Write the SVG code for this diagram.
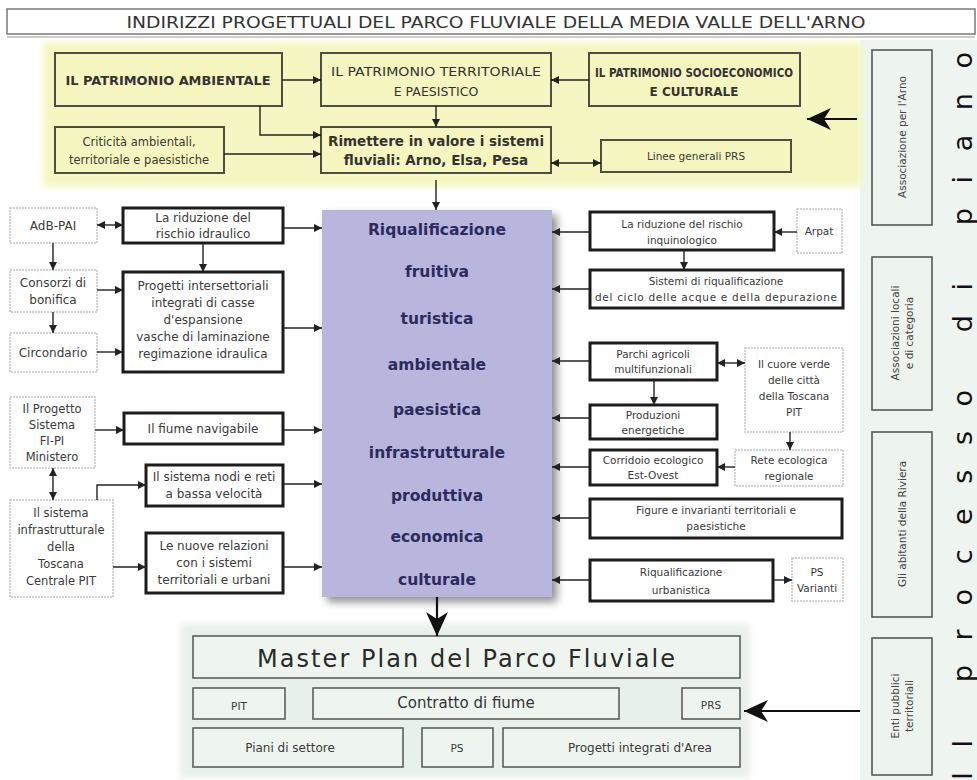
<svg xmlns="http://www.w3.org/2000/svg" width="977" height="780" viewBox="0 0 977 780">
<defs>
<marker id="a" markerUnits="userSpaceOnUse" markerWidth="9" markerHeight="8" refX="8" refY="4" orient="auto-start-reverse"><path d="M0,0 L8,4 L0,8 z" fill="#222"/></marker>
<marker id="big" markerUnits="userSpaceOnUse" markerWidth="26" markerHeight="22" refX="24" refY="11" orient="auto"><path d="M0,0 L24,11 L0,22 L7,11 z" fill="#111"/></marker>
<filter id="soft" x="-5%" y="-10%" width="110%" height="120%"><feGaussianBlur stdDeviation="3"/></filter>
<filter id="shadow" x="-10%" y="-10%" width="125%" height="125%"><feGaussianBlur in="SourceAlpha" stdDeviation="4"/><feOffset dx="5" dy="5"/><feComponentTransfer><feFuncA type="linear" slope="0.45"/></feComponentTransfer><feMerge><feMergeNode/><feMergeNode in="SourceGraphic"/></feMerge></filter>
</defs>
<style>
text{font-family:"DejaVu Sans","Liberation Sans",sans-serif;fill:#3a3a3a;text-anchor:middle}
.yb{fill:#f5f5bf;stroke:#4d4d40;stroke-width:2}
.gb{fill:#fff;stroke:#c4c4c4;stroke-width:1.5;stroke-dasharray:2 1}
.kb{fill:#fff;stroke:#1c1c1c;stroke-width:3}
.mb{fill:#edf5ee;stroke:#5a5f5a;stroke-width:1.6}
.rb{fill:#edf3ed;stroke:#555a55;stroke-width:1.6}
.t12{font-size:12px}
.t11{font-size:10.5px}
.up{font-size:12px;font-weight:bold;fill:#333}
.pu{font-size:15.5px;font-weight:bold;fill:#2b2b5e}
.ln{fill:none;stroke:#222;stroke-width:1.4}
.big{fill:none;stroke:#111;stroke-width:2.2}
.vt{font-size:10.5px;fill:#444}
</style>
<rect width="977" height="780" fill="#fff"/>

<g id="title">
<rect x="7" y="36" width="968" height="2" fill="#ccc"/>
<rect x="7" y="9" width="968" height="25" fill="#fff" stroke="#7a7a7a" stroke-width="1.5"/>
<text x="496" y="28" font-size="16" textLength="739" lengthAdjust="spacingAndGlyphs" style="fill:#333">INDIRIZZI PROGETTUALI DEL PARCO FLUVIALE DELLA MEDIA VALLE DELL'ARNO</text>
</g>

<g id="right-panel">
<rect x="860" y="40" width="117" height="740" fill="#eef4ef"/>
</g>

<g id="yellow-panel">
<rect x="43" y="42" width="819" height="145" fill="#f6f6c2" filter="url(#soft)"/>
</g>

<g id="bottom-panel">
<rect x="180" y="624" width="570" height="154" fill="#e8f1e9" filter="url(#soft)"/>
</g>

<g id="purple">
<rect x="322" y="210" width="230" height="387" fill="#b8b6dc" filter="url(#shadow)"/>
<text class="pu" x="437" y="235">Riqualificazione</text>
<text class="pu" x="437" y="277">fruitiva</text>
<text class="pu" x="437" y="324">turistica</text>
<text class="pu" x="437" y="370">ambientale</text>
<text class="pu" x="437" y="415">paesistica</text>
<text class="pu" x="437" y="458">infrastrutturale</text>
<text class="pu" x="437" y="501">produttiva</text>
<text class="pu" x="437" y="542">economica</text>
<text class="pu" x="437" y="585">culturale</text>
</g>

<g id="n-ambientale"><rect class="yb" x="55" y="53" width="227" height="53"/><text class="up" x="168" y="85" textLength="205" lengthAdjust="spacingAndGlyphs">IL PATRIMONIO AMBIENTALE</text></g>
<g id="n-territoriale"><rect class="yb" x="321" y="53" width="230" height="53"/><text x="436" y="76" font-size="12.5" textLength="210" lengthAdjust="spacingAndGlyphs" style="fill:#333">IL PATRIMONIO TERRITORIALE</text><text x="436" y="96" font-size="12.5" style="fill:#333">E PAESISTICO</text></g>
<g id="n-socio"><rect class="yb" x="589" y="53" width="211" height="53"/><text class="up" x="694" y="77" textLength="198" lengthAdjust="spacingAndGlyphs">IL PATRIMONIO SOCIOECONOMICO</text><text class="up" x="694" y="96">E CULTURALE</text></g>
<g id="n-criticita"><rect class="yb" x="55" y="127" width="169" height="46"/><text class="t11" x="139" y="146" style="font-size:11.5px">Criticità ambientali,</text><text class="t11" x="139" y="164" style="font-size:11.5px">territoriale e paesistiche</text></g>
<g id="n-rimettere"><rect class="yb" x="321" y="127" width="230" height="46"/><text x="436" y="146" font-size="13.5" font-weight="bold" textLength="216" lengthAdjust="spacingAndGlyphs" style="fill:#333">Rimettere in valore i sistemi</text><text x="436" y="165" font-size="13.5" font-weight="bold" style="fill:#333">fluviali: Arno, Elsa, Pesa</text></g>
<g id="n-linee"><rect class="yb" x="601" y="140" width="190" height="32"/><text class="t11" x="696" y="160">Linee generali PRS</text></g>

<g id="n-adb"><rect class="gb" x="10" y="208" width="87" height="35"/><text class="t12" x="53" y="230">AdB-PAI</text></g>
<g id="n-consorzi"><rect class="gb" x="10" y="270" width="87" height="42"/><text class="t12" x="53" y="287">Consorzi di</text><text class="t12" x="53" y="304">bonifica</text></g>
<g id="n-circondario"><rect class="gb" x="10" y="333" width="87" height="39"/><text class="t12" x="53" y="357">Circondario</text></g>
<g id="n-progetto-sistema"><rect class="gb" x="10" y="397" width="85" height="71"/><text class="t12" x="52" y="413" style="font-size:11.5px">Il Progetto</text><text class="t12" x="52" y="429" style="font-size:11.5px">Sistema</text><text class="t12" x="52" y="445" style="font-size:11.5px">FI-PI</text><text class="t12" x="52" y="461" style="font-size:11.5px">Ministero</text></g>
<g id="n-infra"><rect class="gb" x="10" y="500" width="103" height="97"/><text class="t12" x="61" y="517" style="font-size:11.5px">Il sistema</text><text class="t12" x="61" y="534" style="font-size:11.5px">infrastrutturale</text><text class="t12" x="61" y="551" style="font-size:11.5px">della</text><text class="t12" x="61" y="568" style="font-size:11.5px">Toscana</text><text class="t12" x="61" y="585" style="font-size:11.5px">Centrale PIT</text></g>

<g id="n-rid-idr"><rect class="kb" x="123" y="208" width="160" height="35"/><text class="t12" x="203" y="222">La riduzione del</text><text class="t12" x="203" y="238">rischio idraulico</text></g>
<g id="n-progetti"><rect class="kb" x="123" y="272" width="160" height="100"/><text class="t12" x="203" y="290">Progetti intersettoriali</text><text class="t12" x="203" y="307">integrati di casse</text><text class="t12" x="203" y="324">d'espansione</text><text class="t12" x="203" y="341">vasche di laminazione</text><text class="t12" x="203" y="358">regimazione idraulica</text></g>
<g id="n-fiume"><rect class="kb" x="124" y="413" width="159" height="31"/><text class="t12" x="203" y="433">Il fiume navigabile</text></g>
<g id="n-nodi"><rect class="kb" x="146" y="465" width="137" height="41"/><text class="t12" x="214" y="481">Il sistema nodi e reti</text><text class="t12" x="214" y="498">a bassa velocità</text></g>
<g id="n-nuove"><rect class="kb" x="146" y="533" width="137" height="60"/><text class="t12" x="214" y="550">Le nuove relazioni</text><text class="t12" x="214" y="567">con i sistemi</text><text class="t12" x="214" y="584">territoriali e urbani</text></g>

<g id="n-rid-inq"><rect class="kb" x="590" y="212" width="184" height="38"/><text class="t11" x="682" y="228">La riduzione del rischio</text><text class="t11" x="682" y="244">inquinologico</text></g>
<g id="n-arpat"><rect class="gb" x="797" y="209" width="45" height="44"/><text class="t11" x="819" y="235">Arpat</text></g>
<g id="n-sistemi"><rect class="kb" x="590" y="270" width="253" height="38"/><text class="t11" x="716" y="285">Sistemi di riqualificazione</text><text class="t11" x="716" y="301" textLength="242">del ciclo delle acque e della depurazione</text></g>
<g id="n-parchi"><rect class="kb" x="590" y="343" width="127" height="37"/><text class="t11" x="653" y="358">Parchi agricoli</text><text class="t11" x="653" y="373">multifunzionali</text></g>
<g id="n-cuore"><rect class="gb" x="745" y="348" width="98" height="84"/><text class="t11" x="794" y="368">Il cuore verde</text><text class="t11" x="794" y="384">delle città</text><text class="t11" x="794" y="400">della Toscana</text><text class="t11" x="794" y="416">PIT</text></g>
<g id="n-produzioni"><rect class="kb" x="590" y="405" width="127" height="34"/><text class="t11" x="653" y="419">Produzioni</text><text class="t11" x="653" y="434">energetiche</text></g>
<g id="n-corridoio"><rect class="kb" x="590" y="450" width="127" height="35"/><text class="t11" x="653" y="464">Corridoio ecologico</text><text class="t11" x="653" y="479">Est-Ovest</text></g>
<g id="n-rete"><rect class="gb" x="735" y="450" width="108" height="36"/><text class="t11" x="789" y="464">Rete ecologica</text><text class="t11" x="789" y="480">regionale</text></g>
<g id="n-figure"><rect class="kb" x="590" y="499" width="252" height="39"/><text class="t11" x="716" y="514">Figure e invarianti territoriali e</text><text class="t11" x="716" y="530">paesistiche</text></g>
<g id="n-riq-urb"><rect class="kb" x="590" y="560" width="183" height="41"/><text class="t11" x="681" y="576">Riqualificazione</text><text class="t11" x="681" y="594">urbanistica</text></g>
<g id="n-ps-var"><rect class="gb" x="792" y="558" width="51" height="43"/><text class="t11" x="817" y="576">PS</text><text class="t11" x="817" y="592">Varianti</text></g>

<g id="n-master"><rect class="mb" x="193" y="636" width="547" height="42"/><text x="466" y="667" font-size="24" textLength="418" style="fill:#2a2a2a">Master Plan del Parco Fluviale</text></g>
<g id="n-pit"><rect class="mb" x="193" y="688" width="92" height="31"/><text class="t11" x="239" y="710">PIT</text></g>
<g id="n-contratto"><rect class="mb" x="313" y="688" width="306" height="31"/><text x="466" y="708" font-size="15" style="fill:#333">Contratto di fiume</text></g>
<g id="n-prs"><rect class="mb" x="682" y="688" width="58" height="31"/><text class="t11" x="711" y="709">PRS</text></g>
<g id="n-piani"><rect class="mb" x="193" y="728" width="210" height="39"/><text class="t12" x="290" y="752">Piani di settore</text></g>
<g id="n-ps"><rect class="mb" x="422" y="728" width="71" height="39"/><text class="t11" x="457" y="752">PS</text></g>
<g id="n-progetti-area"><rect class="mb" x="503" y="728" width="237" height="39"/><text class="t12" x="640" y="752">Progetti integrati d'Area</text></g>

<g id="n-assoc-arno"><rect class="rb" x="872" y="50" width="60" height="175"/><text class="vt" transform="translate(906,137) rotate(-90)">Associazione per l'Arno</text></g>
<g id="n-assoc-locali"><rect class="rb" x="872" y="257" width="60" height="153"/><text class="vt" transform="translate(899,333) rotate(-90)">Associazioni locali</text><text class="vt" transform="translate(913,333) rotate(-90)">e di categoria</text></g>
<g id="n-abitanti"><rect class="rb" x="872" y="432" width="60" height="185"/><text class="vt" transform="translate(906,524) rotate(-90)">Gli abitanti della Riviera</text></g>
<g id="n-enti"><rect class="rb" x="872" y="638" width="60" height="137"/><text class="vt" transform="translate(899,706) rotate(-90)">Enti pubblici</text><text class="vt" transform="translate(913,706) rotate(-90)">territoriali</text></g>
<g id="processo"><text transform="translate(972,780) rotate(-90)" x="0" y="0" font-size="27" textLength="728" lengthAdjust="spacing" style="text-anchor:start;fill:#111">Il processo di piano</text></g>

<g id="connectors">
<path class="ln" d="M282,80 H321" marker-end="url(#a)"/>
<path class="ln" d="M589,80 H551" marker-end="url(#a)"/>
<path class="ln" d="M436,106 V127" marker-end="url(#a)"/>
<path class="ln" d="M260,106 V135 H321" marker-end="url(#a)"/>
<path class="ln" d="M224,154 H321" marker-end="url(#a)"/>
<path class="ln" d="M551,163 H601" marker-start="url(#a)" marker-end="url(#a)"/>
<path class="ln" d="M436,180 V210" marker-end="url(#a)"/>
<path class="big" d="M857,119 H807" marker-end="url(#big)"/>
<path class="big" d="M860,711 H744" marker-end="url(#big)"/>
<path class="big" d="M437,597 V636" marker-end="url(#big)"/>

<path class="ln" d="M97,225 H123" marker-start="url(#a)" marker-end="url(#a)"/>
<path class="ln" d="M53,243 V270" marker-end="url(#a)"/>
<path class="ln" d="M53,312 V333" marker-end="url(#a)"/>
<path class="ln" d="M97,290 H123" marker-end="url(#a)"/>
<path class="ln" d="M97,352 H123" marker-end="url(#a)"/>
<path class="ln" d="M203,243 V272" marker-end="url(#a)"/>
<path class="ln" d="M283,228 H322" marker-end="url(#a)"/>
<path class="ln" d="M283,328 H322" marker-end="url(#a)"/>
<path class="ln" d="M95,430 H124" marker-end="url(#a)"/>
<path class="ln" d="M53,468 V500" marker-start="url(#a)" marker-end="url(#a)"/>
<path class="ln" d="M97,500 V485 H146" marker-end="url(#a)"/>
<path class="ln" d="M283,430 H322" marker-end="url(#a)"/>
<path class="ln" d="M283,484 H322" marker-end="url(#a)"/>
<path class="ln" d="M113,567 H146" marker-end="url(#a)"/>
<path class="ln" d="M283,567 H322" marker-end="url(#a)"/>

<path class="ln" d="M590,232 H552" marker-end="url(#a)"/>
<path class="ln" d="M590,289 H552" marker-end="url(#a)"/>
<path class="ln" d="M590,361 H552" marker-end="url(#a)"/>
<path class="ln" d="M590,418 H552" marker-end="url(#a)"/>
<path class="ln" d="M590,467 H552" marker-end="url(#a)"/>
<path class="ln" d="M590,518 H552" marker-end="url(#a)"/>
<path class="ln" d="M590,580 H552" marker-end="url(#a)"/>
<path class="ln" d="M797,232 H774" marker-end="url(#a)"/>
<path class="ln" d="M684,250 V270" marker-end="url(#a)"/>
<path class="ln" d="M717,363 H745" marker-start="url(#a)" marker-end="url(#a)"/>
<path class="ln" d="M654,380 V405" marker-end="url(#a)"/>
<path class="ln" d="M790,432 V450" marker-end="url(#a)"/>
<path class="ln" d="M735,467 H717" marker-end="url(#a)"/>
<path class="ln" d="M773,580 H792" marker-end="url(#a)"/>
</g>
</svg>
